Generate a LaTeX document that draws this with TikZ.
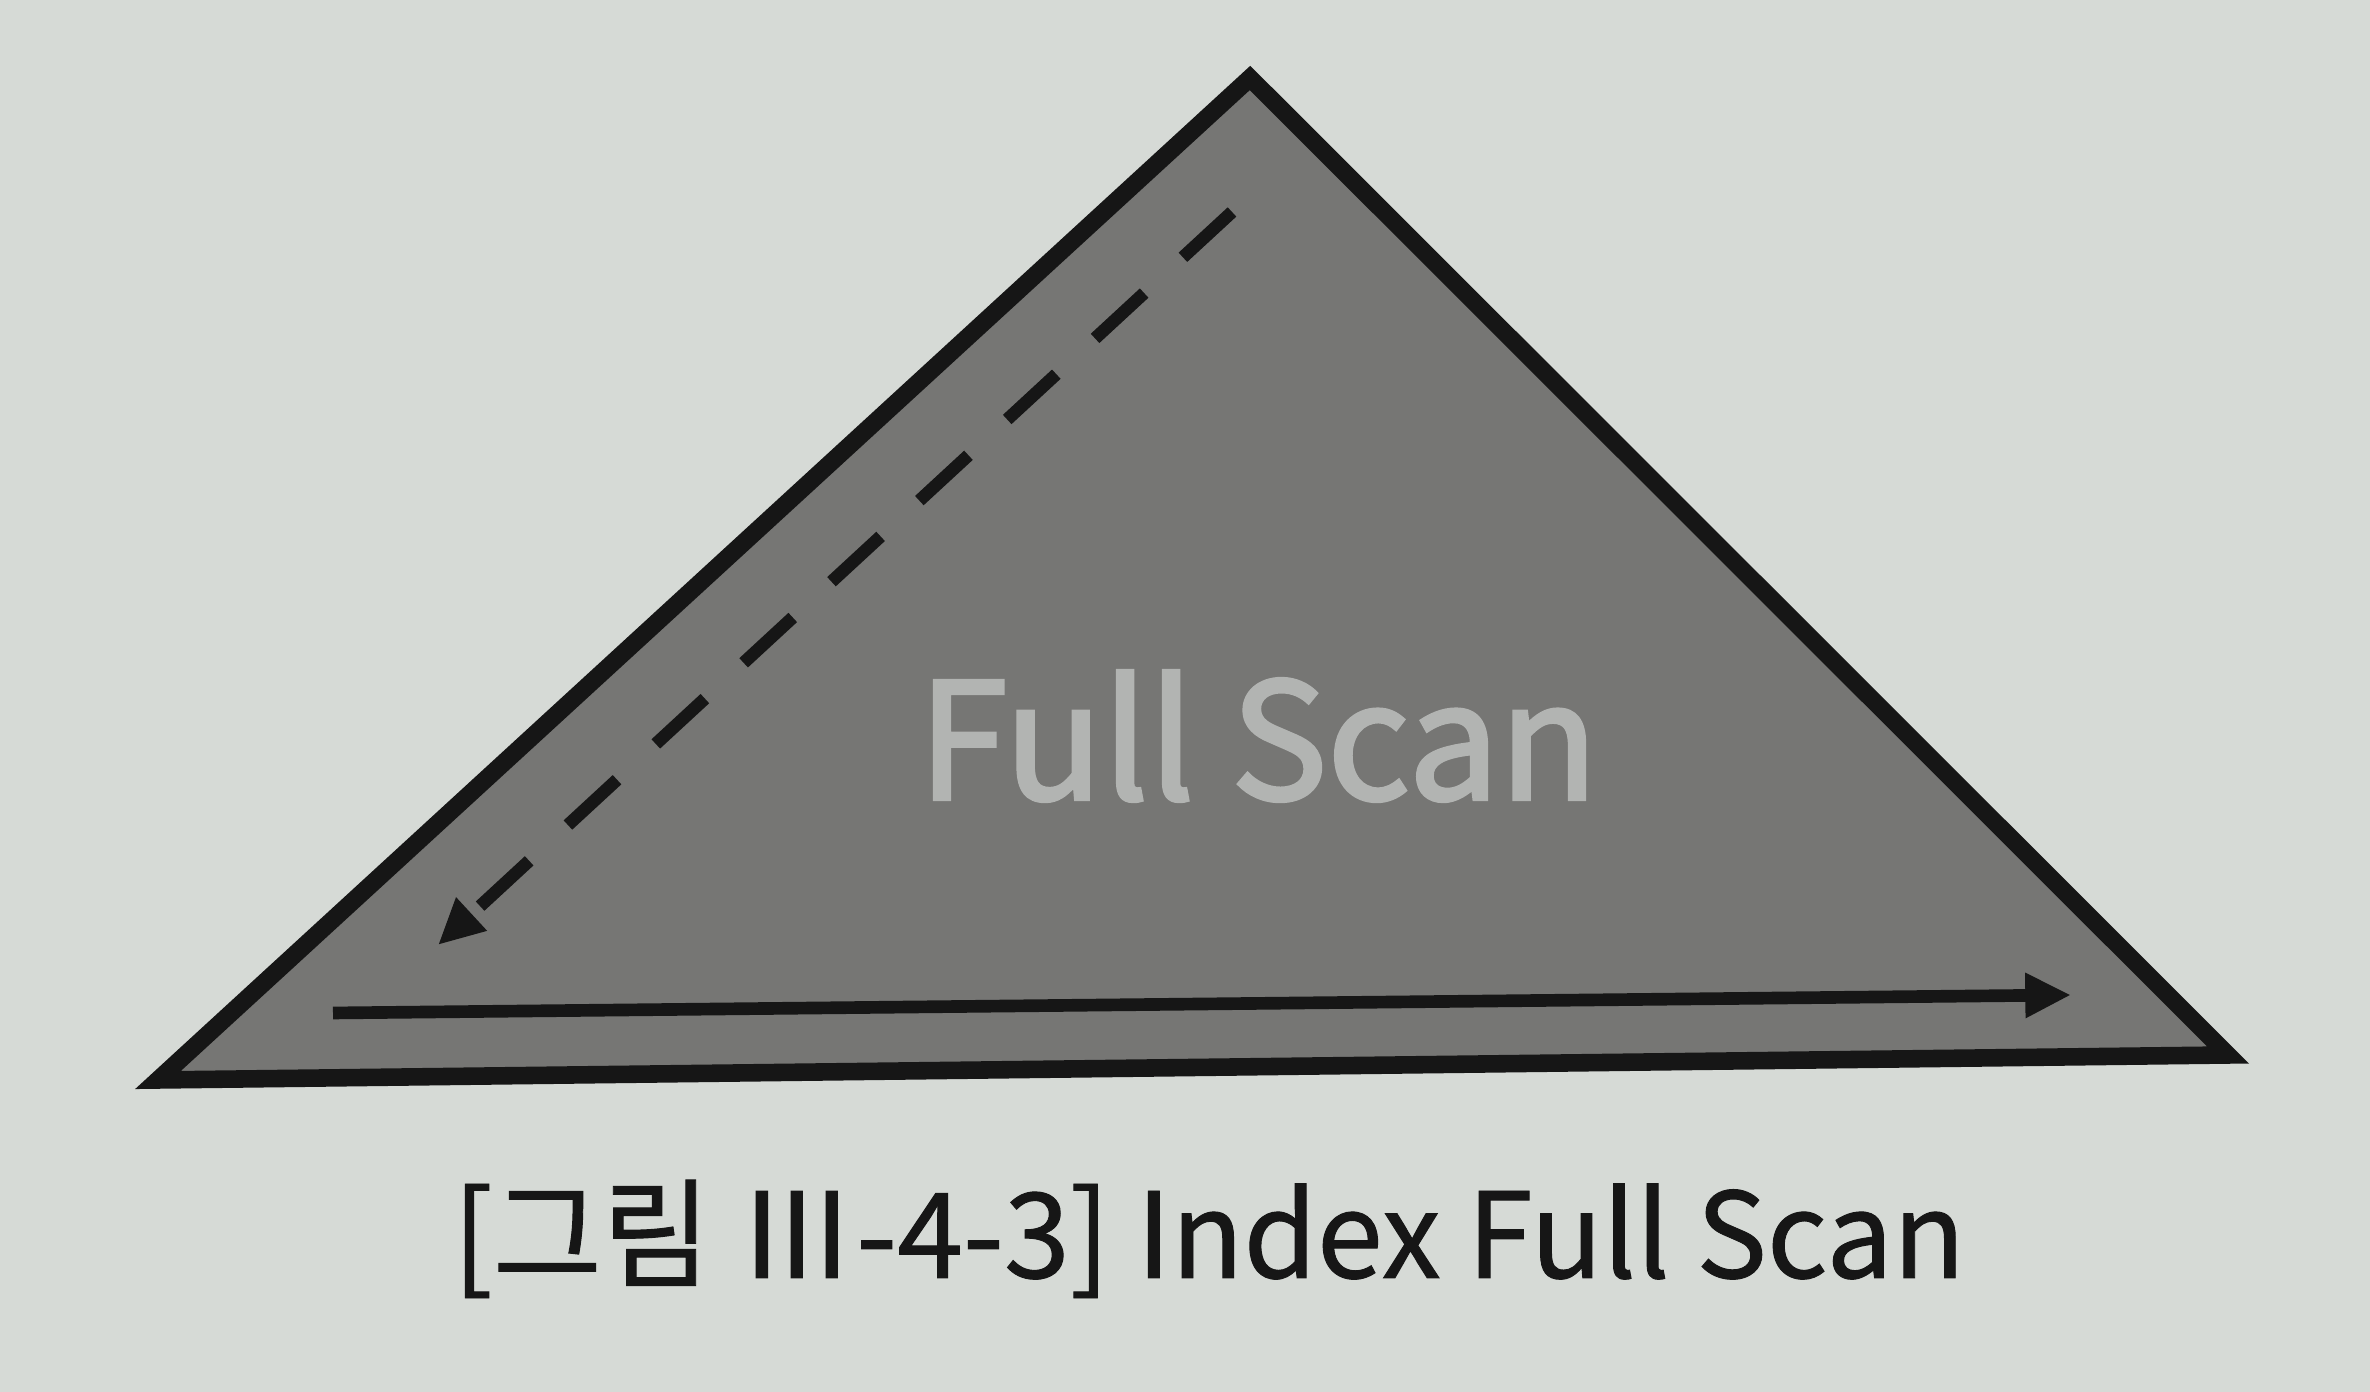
\documentclass[tikz,border=0pt]{standalone}
\usepackage{fontspec}
\newfontfamily\krfont{Noto Sans CJK KR}
\newfontfamily\krsemi[FakeBold=2.2]{Noto Sans CJK KR}
\newfontfamily\krcap[FakeBold=0.8]{Noto Sans CJK KR}
\usetikzlibrary{arrows.meta}
\definecolor{paper}{RGB}{214,218,214}
\definecolor{tri}{RGB}{118,118,116}
\definecolor{ink}{RGB}{22,22,22}
\definecolor{lighttext}{RGB}{178,180,178}
\tikzset{
  outline/.style={draw=ink, line width=5pt, line join=miter, fill=tri},
  scanline/.style={draw=ink, line width=3.6pt, -{Triangle[length=13pt,width=12pt]}},
  dashscan/.style={scanline, dash pattern=on 19pt off 15pt},
  label/.style={font=\krfont, inner sep=0pt},
}
\begin{document}
\begin{tikzpicture}[x=0.01cm,y=0.01cm]
\useasboundingbox (0,0) rectangle (2370,1392);
\fill[paper] (0,0) rectangle (2370,1392);
\coordinate (apex) at (1250,1314);
\coordinate (bl) at (158,312);
\coordinate (br) at (2228,337);
\draw[outline] (apex) -- (bl) -- (br) -- cycle;
\node[label, text=lighttext, font=\krsemi\fontsize{46}{52}\selectfont] (fs) at (1258,656) {Full Scan};
\coordinate (d1) at (1232,1180);
\coordinate (d2) at (438,447);
\draw[dashscan] (d1) -- (d2);
\coordinate (s1) at (333,379);
\coordinate (s2) at (2071,397);
\draw[scanline] (s1) -- (s2);
\node[label, text=ink, font=\krcap\fontsize{33.7}{38}\selectfont] (cap) at (1209,153) {[그림 Ⅲ-4-3] Index Full Scan};
\end{tikzpicture}
\end{document}
